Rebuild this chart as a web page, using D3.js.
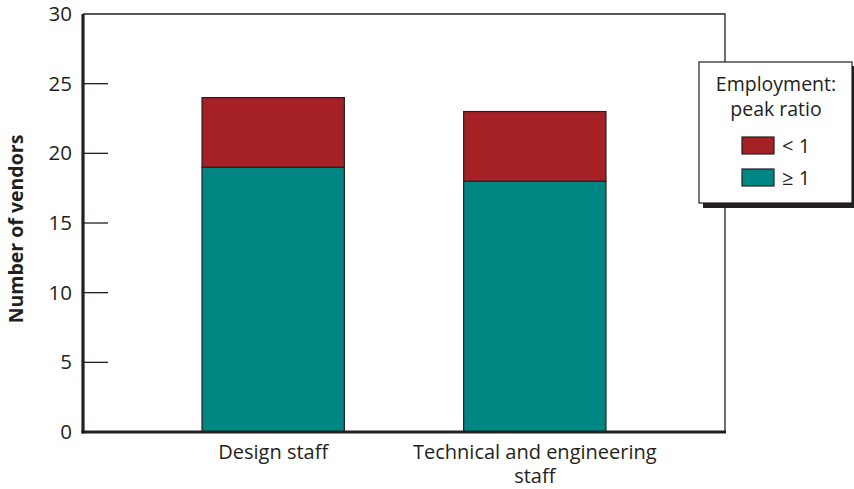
<!DOCTYPE html>
<html><head><meta charset="utf-8">
<script src="https://cdn.jsdelivr.net/npm/d3@7"></script>
<style>body{margin:0;background:#fff;} svg{display:block;font-family:"Open Sans",sans-serif;}</style>
</head><body>
<svg id="c" width="854" height="489"></svg>
<script>
const categories = ["Design staff", "Technical and engineering staff"];
const categoryLines = [["Design staff"], ["Technical and engineering", "staff"]];
const seriesNames = ["< 1", "\u2265 1"];
const peakBelow1 = [5, 5];
const peakAtLeast1 = [19, 18];
const yTicks = [0, 5, 10, 15, 20, 25, 30];
const colors = {"< 1": "#a52126", "\u2265 1": "#008784"};

const svg = d3.select("#c");
const ink = "#231f20";
const L = 83, R = 725, T = 14, B = 432;
const x = d3.scaleBand().domain(categories).range([L, R]).paddingInner(0.456).paddingOuter(0.455);
const y = d3.scaleLinear().domain([0, 30]).range([B, T]);

const data = categories.map((c, i) => ({cat: c, "\u2265 1": peakAtLeast1[i], "< 1": peakBelow1[i]}));
const stack = d3.stack().keys(["\u2265 1", "< 1"])(data);

svg.append("path").attr("d", `M${L},${T}H${R}V${B}`).attr("fill", "none").attr("stroke", ink).attr("stroke-width", 1.3);

svg.append("g").selectAll("g").data(stack).join("g")
  .attr("fill", d => colors[d.key])
  .selectAll("rect").data(d => d).join("rect")
  .attr("x", d => x(d.data.cat))
  .attr("width", x.bandwidth())
  .attr("y", d => y(d[1]))
  .attr("height", d => y(d[0]) - y(d[1]))
  .attr("stroke", ink).attr("stroke-width", 1.2);

const yAxis = d3.axisLeft(y).tickValues(yTicks).tickSize(0).tickPadding(11);
const ga = svg.append("g").attr("transform", `translate(${L},0)`).call(yAxis);
ga.select(".domain").remove();
ga.selectAll("text").attr("font-size", 20.5).attr("fill", ink).attr("font-family", "'Open Sans',sans-serif");
svg.append("g").selectAll("line").data(yTicks.filter(t => t > 0 && t < 30)).join("line")
  .attr("x1", L).attr("x2", L + 25).attr("y1", d => y(d)).attr("y2", d => y(d))
  .attr("stroke", ink).attr("stroke-width", 1.3);

svg.append("line").attr("x1", L).attr("x2", L).attr("y1", T).attr("y2", B + 1.5).attr("stroke", ink).attr("stroke-width", 3.2);
svg.append("line").attr("x1", L - 1.5).attr("x2", R + 1).attr("y1", B).attr("y2", B).attr("stroke", ink).attr("stroke-width", 3.2);

categories.forEach((c, i) => {
  const t = svg.append("text").attr("text-anchor", "middle").attr("font-size", 20).attr("fill", ink)
    .attr("x", x(c) + x.bandwidth() / 2).attr("y", 459);
  categoryLines[i].forEach((ln, j) => t.append("tspan").attr("x", x(c) + x.bandwidth() / 2).attr("dy", j ? 24 : 0).text(ln));
});

svg.append("text").attr("transform", `translate(23,${(T + B) / 2 + 6}) rotate(-90)`)
  .attr("text-anchor", "middle").attr("font-size", 19.5).attr("font-weight", "bold").attr("fill", ink)
  .text("Number of vendors");

const lg = svg.append("g");
lg.append("rect").attr("x", 703).attr("y", 66).attr("width", 160).attr("height", 142).attr("fill", ink);
lg.append("rect").attr("x", 699).attr("y", 62).attr("width", 153).attr("height", 141).attr("fill", "#fff").attr("stroke", ink).attr("stroke-width", 1.2);
lg.append("text").attr("x", 776).attr("y", 91).attr("text-anchor", "middle").attr("font-size", 19.5).attr("fill", ink).text("Employment:");
lg.append("text").attr("x", 776).attr("y", 116).attr("text-anchor", "middle").attr("font-size", 19.5).attr("fill", ink).text("peak ratio");
seriesNames.forEach((s, i) => {
  lg.append("rect").attr("x", 742).attr("y", 137 + i * 32).attr("width", 32).attr("height", 17)
    .attr("fill", colors[s]).attr("stroke", ink).attr("stroke-width", 1.2);
  lg.append("text").attr("x", 782).attr("y", 153 + i * 32).attr("font-size", 20).attr("fill", ink).text(s);
});
</script>
</body></html>
